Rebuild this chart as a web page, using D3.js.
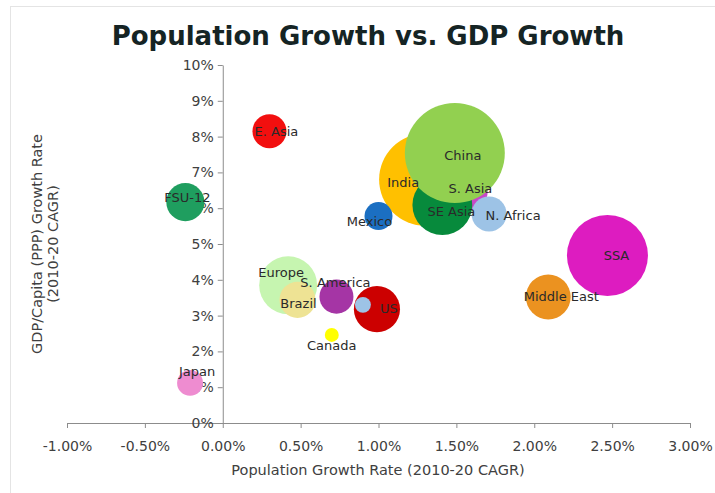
<!DOCTYPE html>
<html>
<head>
<meta charset="utf-8">
<script src="https://cdn.jsdelivr.net/npm/d3@7"></script>
<style>
  body { margin: 0; background: #fff; }
  text { font-family: "DejaVu Sans", Verdana, sans-serif; }
</style>
</head>
<body>
<div id="chart"></div>
<script>
// regions, in drawing order (later ones sit on top)
var regions   = ["S. Asia", "India", "SE Asia", "China", "N. Africa", "Mexico", "E. Asia", "FSU-12",
                 "SSA", "Middle East", "Europe", "Brazil", "S. America", "US", "", "Canada", "Japan"];
// population growth rate (2010-20 CAGR)
var popGrowth = [0.0159, 0.0130, 0.0141, 0.0149, 0.0171, 0.0100, 0.0030, -0.0024,
                 0.0247, 0.0209, 0.0042, 0.0048, 0.0073, 0.0099, 0.0090, 0.0070, -0.0021];
// GDP/capita (PPP) growth rate (2010-20 CAGR)
var gdpGrowth = [0.0645, 0.0680, 0.0609, 0.0754, 0.0584, 0.0578, 0.0815, 0.0617,
                 0.0468, 0.0352, 0.0385, 0.0344, 0.0353, 0.0318, 0.0330, 0.0246, 0.0112];
// bubble size (population, millions)
var popSize   = [160, 1140, 480, 1340, 165, 105, 155, 195,
                 880, 270, 450, 175, 155, 285, 34, 26, 90];
var colors    = ["#c848c8", "#ffc000", "#078a3c", "#92d050", "#9dc3e6", "#1b6fc2", "#f20f0f", "#1f9e5f",
                 "#dd1cc0", "#eb9220", "#c6f5b0", "#eee394", "#a535a5", "#cc0000", "#9dc3e6", "#ffff00", "#ee8cd0"];

var xTicks = [-0.01, -0.005, 0, 0.005, 0.01, 0.015, 0.02, 0.025, 0.03];
var yTicks = [0, 0.01, 0.02, 0.03, 0.04, 0.05, 0.06, 0.07, 0.08, 0.09, 0.10];

// label nudges in px (layout only)
var labelNudge = {
  "E. Asia": [7, 0], "FSU-12": [2, -5], "China": [8, 2], "India": [-22, 3], "S. Asia": [0, -4],
  "SE Asia": [9, 7], "Mexico": [-9, 5], "N. Africa": [24, 2], "SSA": [9, 0], "Middle East": [13, 0],
  "Europe": [-7, -13], "S. America": [-1, -14], "Brazil": [1, 4], "US": [12, -1], "Canada": [0, 11],
  "Japan": [7, -11]
};

var width = 715, height = 493;
var svg = d3.select("#chart").append("svg")
  .attr("width", width)
  .attr("height", height);

// outer frame
svg.append("rect")
  .attr("x", 10.5).attr("y", 6.5)
  .attr("width", width + 10).attr("height", height + 10)
  .attr("fill", "none")
  .attr("stroke", "#e4e4e4");

svg.append("text")
  .attr("x", 368).attr("y", 45)
  .attr("text-anchor", "middle")
  .style("font-size", "26px")
  .style("font-weight", "bold")
  .style("fill", "#152424")
  .text("Population Growth vs. GDP Growth");

var x = d3.scaleLinear().domain([-0.01, 0.03]).range([67, 690]);
var y = d3.scaleLinear().domain([0, 0.10]).range([423, 65]);
var r = d3.scaleSqrt().domain([0, 1340]).range([0, 50]);

// plain hyphen for negatives, like the original
var fmtX = function(d) { return d3.format(".2%")(d).replace("\u2212", "-"); };

var xAxis = svg.append("g")
  .attr("transform", "translate(0," + y(0) + ")")
  .call(d3.axisBottom(x).tickValues(xTicks).tickFormat(fmtX).tickSize(5).tickSizeOuter(0));

var yAxis = svg.append("g")
  .attr("transform", "translate(" + x(0) + ",0)")
  .call(d3.axisLeft(y).tickValues(yTicks).tickFormat(d3.format(".0%")).tickSize(5).tickSizeOuter(0));

[xAxis, yAxis].forEach(function(g) {
  g.select(".domain").attr("stroke", "#8c8c8c");
  g.selectAll(".tick line").attr("stroke", "#8c8c8c");
  g.selectAll(".tick text")
    .style("font-family", "DejaVu Sans, Verdana, sans-serif")
    .style("font-size", "14px")
    .style("fill", "#404040");
});
xAxis.selectAll(".tick text").attr("dy", "1.45em");
yAxis.selectAll(".tick text").attr("x", -9);

var data = regions.map(function(name, i) {
  return { name: name, px: popGrowth[i], gy: gdpGrowth[i], size: popSize[i], color: colors[i] };
});

svg.append("g").selectAll("circle")
  .data(data)
  .enter().append("circle")
  .attr("cx", function(d) { return x(d.px); })
  .attr("cy", function(d) { return y(d.gy); })
  .attr("r", function(d) { return r(d.size); })
  .attr("fill", function(d) { return d.color; });

svg.append("g").selectAll("text")
  .data(data.filter(function(d) { return d.name !== ""; }))
  .enter().append("text")
  .attr("x", function(d) { return x(d.px) + (labelNudge[d.name] || [0, 0])[0]; })
  .attr("y", function(d) { return y(d.gy) + (labelNudge[d.name] || [0, 0])[1]; })
  .attr("text-anchor", "middle")
  .attr("dominant-baseline", "central")
  .style("font-size", "13px")
  .style("fill", "#2a2a2a")
  .text(function(d) { return d.name; });

// axis titles
svg.append("text")
  .attr("x", 378).attr("y", 475)
  .attr("text-anchor", "middle")
  .style("font-size", "14.5px")
  .style("fill", "#404040")
  .text("Population Growth Rate (2010-20 CAGR)");

var yTitle = svg.append("text")
  .attr("transform", "translate(42,244) rotate(-90)")
  .attr("text-anchor", "middle")
  .style("font-size", "14.5px")
  .style("fill", "#404040");
yTitle.append("tspan").attr("x", 0).attr("dy", 0).text("GDP/Capita (PPP) Growth Rate");
yTitle.append("tspan").attr("x", 0).attr("dy", "1.1em").text("(2010-20 CAGR)");
</script>
</body>
</html>
